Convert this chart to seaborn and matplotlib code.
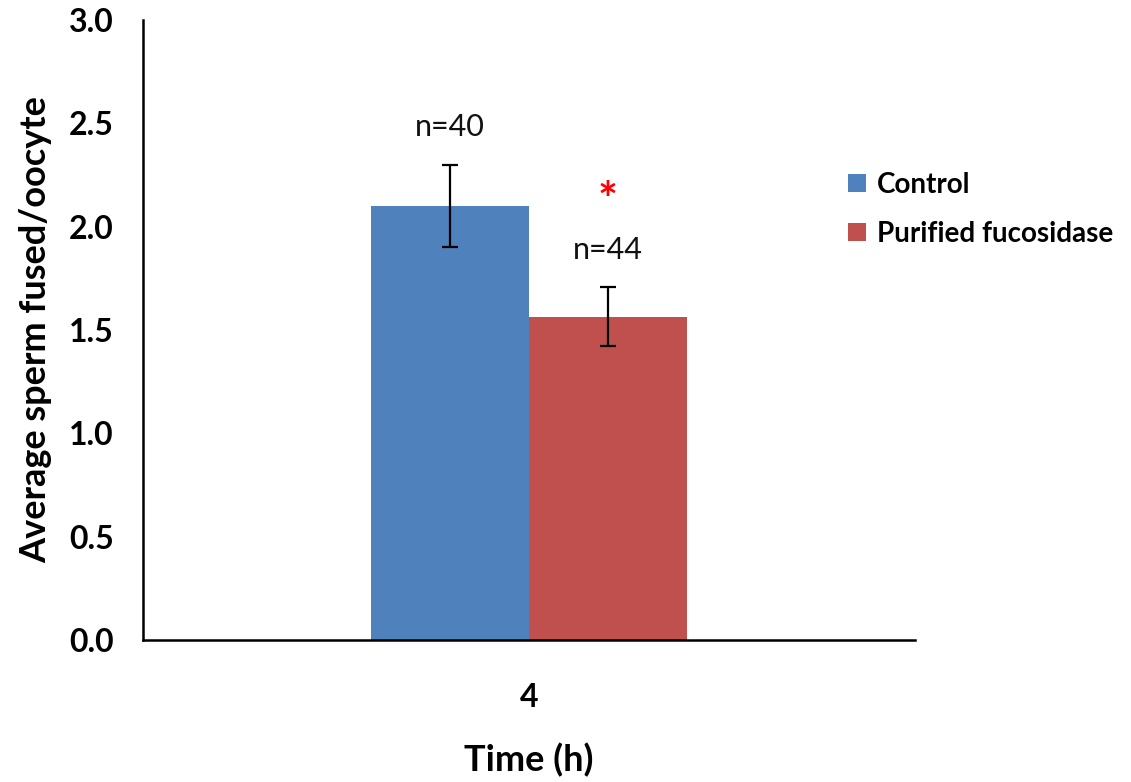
import matplotlib
matplotlib.use("Agg")
import matplotlib.pyplot as plt
import seaborn as sns
import pandas as pd

# Data
times = ["4"]
groups = ["Control", "Purified fucosidase"]
means = [2.10, 1.565]
errors = [0.20, 0.142]
n_labels = ["n=40", "n=44"]
colors = ["#4F81BD", "#C0504D"]

sns.set_theme(style="white")
plt.rcParams['font.family'] = ['Lato', 'DejaVu Sans']
plt.rcParams.update({"text.color": "black", "axes.labelcolor": "black",
                     "xtick.color": "black", "ytick.color": "black"})

df = pd.DataFrame({"Time": times * len(groups), "Group": groups, "Mean": means})

fig = plt.figure(figsize=(11.31, 7.82), dpi=100)
ax = fig.add_axes([0.1264, 0.1816, 0.809 - 0.1264, 0.9744 - 0.1816])

sns.barplot(data=df, x="Time", y="Mean", hue="Group", palette=colors,
            width=0.41, errorbar=None, saturation=1, ax=ax, linewidth=0)

patches = [p for p in ax.patches if p.get_height() > 0][:len(groups)]
for p, m, e, lab in zip(patches, means, errors, n_labels):
    cx = p.get_x() + p.get_width() / 2
    ax.errorbar(cx, m, yerr=e, fmt="none", ecolor="black", elinewidth=1.6,
                capsize=6, capthick=1.6, zorder=5)
    ax.text(cx, m + e + 0.18, lab, ha="center", va="center", fontsize=22,
            color="#111111")
p2 = patches[1]
ax.text(p2.get_x() + p2.get_width() / 2, means[1] + errors[1] + 0.41,
        "*", ha="center", va="center", fontsize=34, color="red", fontweight="bold")

ax.set_ylim(0, 3.0)
ax.set_xlim(-0.5, 0.5)
ax.set_yticks([0, 0.5, 1.0, 1.5, 2.0, 2.5, 3.0])
ax.set_yticklabels([f"{v:.1f}" for v in [0, 0.5, 1.0, 1.5, 2.0, 2.5, 3.0]],
                   fontsize=23, fontweight="bold")
ax.set_xticks([0])
ax.set_xticklabels(times, fontsize=23, fontweight="bold")
ax.tick_params(axis="y", direction="out", length=9, width=1.6, colors="black", pad=12)
ax.tick_params(axis="x", length=0, pad=31, colors="black")
ax.set_ylabel("Average sperm fused/oocyte", fontsize=26, fontweight="bold", labelpad=12)
ax.set_xlabel("Time (h)", fontsize=26, fontweight="bold", labelpad=22)

for s in ["top", "right"]:
    ax.spines[s].set_visible(False)
for s in ["left", "bottom"]:
    ax.spines[s].set_color("black")
    ax.spines[s].set_linewidth(1.8)

leg = ax.legend(loc="upper left", bbox_to_anchor=(0.913, 0.755), frameon=False,
                prop={"size": 20, "weight": "bold"}, handlelength=0.65,
                handleheight=0.65, handletextpad=0.4, labelspacing=0.82,
                borderaxespad=0, borderpad=0)

fig.savefig("out.png", dpi=100)
